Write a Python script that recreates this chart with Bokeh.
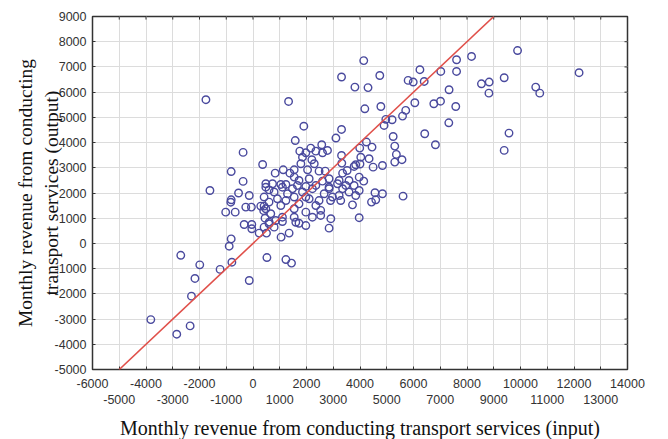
from bokeh.plotting import figure
from bokeh.models import LinearAxis, FixedTicker, Slope
from bokeh.embed import file_html
from bokeh.resources import INLINE

# ---- data ----
x_input = [
    -3820, -2850, -2350, -2300, -2170, -1990, -2700, -1230, -790, -890, -815, -140, 520, 1230, 1440,
    1050, 1350, 230, 505, 415, 790, -330, -45, -45, 1720, 1975, 1100, 605,
    -1760, 1330, 1900, 1580, -370, 360, -815, -1610, -370, -540, -140, -815, -830, -1020, -665, -270, -60, 290, 415,
    3310, 3100, 1750, 1975, 2160, 2350, 2570, 2600, 2785, 3310, 3320, 3840, 4030, 1850, 2200, 2290, 1790, 1540,
    830, 1130, 1380, 2040, 2470, 2700, 3350, 3780, 3970, 3590, 3220, 2845, 2600, 2100, 1720, 1540, 730, 1040,
    1230, 1660, 1975, 2350, 2845, 3160, 3470, 3780, 480, 600,
    415, 600, 480, 790, 915, 1040, 1230, 1290, 1540, 1540, 1720, 1850, 1975, 2100, 2220, 2350, 2470, 2530,
    2660, 2845, 2970, 3220, 3280, 2900, 3720, 3970, 3970, 2910, 2845, 850, 1100, 1540, 1600, 2220, 2530, 665, 600,
    480, 1100, 1475, 3350, 3590, 3840, 1975, 400, 450,
    4240, 3990, 4450, 4340, 4000, 4490, 4840, 3520, 4140, 4560, 4840, 5610, 4430, 4590,
    4140, 3310, 4740, 3810, 4300, 4180, 4780, 5800, 5990, 6400, 6240, 7020, 7610, 7610, 8170, 7330,
    5710, 5590, 6050, 4965, 4900, 5200, 6760, 7010, 7580, 7320, 6420, 6820, 5240, 5300, 5360, 5300, 5570,
    8540, 8830, 8820, 9390, 9890, 10570, 10720, 12190, 9570, 9390,
]
y_output = [
    -3020, -3600, -3270, -2090, -1390, -850, -470, -1030, -745, -110, 180, -1470, -560, -640, -780,
    250, 410, 410, 410, 645, 645, 750, 750, 580, 800, 710, 870, 845,
    5700, 5630, 4650, 4080, 3610, 3130, 2850, 2100, 2460, 2000, 1900, 1730, 1636, 1240, 1240, 1440, 1440, 1480, 1480,
    4520, 4180, 3660, 3595, 3780, 3660, 3913, 3595, 3687, 3490, 3185, 3120, 3420, 3420, 3318, 3160, 3160, 2920,
    2787, 2920, 2787, 2920, 2866, 2866, 2787, 3052, 2628, 2497, 2497, 2565, 2470, 2565, 2497, 2630, 2366, 2340,
    2340, 2300, 2260, 2300, 2230, 2366, 2300, 2300, 2366, 2125,
    1840, 1640, 1375, 2040, 1770, 1505, 1700, 1970, 1840, 1375, 1570, 2040, 1240, 1770, 2170, 1505, 1700, 1310,
    1970, 2170, 1840, 1900, 1700, 1700, 1530, 2100, 1020, 980, 605, 910, 1040, 1040, 840, 1040, 1110, 1180, 780,
    2230, 2230, 2170, 2170, 2040, 1900, 1840, 1300, 1000,
    4020, 3780, 3820, 3360, 3150, 3025, 3090, 2893, 2470, 2010, 1970, 1875, 1640, 1730,
    7250, 6600, 6660, 6200, 6180, 5340, 5430, 6465, 6400, 6425, 6890, 6820, 7285, 6820, 7415, 6095,
    5275, 5050, 5580, 4920, 4680, 4905, 5540, 5640, 5430, 4785, 4350, 3913, 4240, 3860, 3530, 3225, 3320,
    6330, 6400, 5960, 6570, 7650, 6200, 5960, 6770, 4375, 3690,
]

x_min, x_max = -6000, 14000
y_min, y_max = -5000, 9000
x_ticks = list(range(-6000, 14001, 1000))
x_ticks_top_row = list(range(-6000, 14001, 2000))
x_ticks_bottom_row = list(range(-5000, 13001, 2000))
y_ticks = list(range(-5000, 9001, 1000))

fit_slope = 1.0
fit_intercept = 0.0

x_label = "Monthly revenue from conducting transport services (input)"
y_label = "Monthly revenue from conducting\ntransport services (output)"

TICK_FONT = "Liberation Sans"
LABEL_FONT = "Liberation Serif"
TICK_COLOR = "#333333"

W, H = 652, 441
BL, BR, BT, BB = 92, 25, 16, 64


def plain(t):
    return str(t)  # ASCII hyphen for negatives, as in the original


p = figure(width=W, height=H, x_range=(x_min, x_max), y_range=(y_min, y_max),
           output_backend="svg", toolbar_location=None,
           min_border_left=BL, min_border_right=BR, min_border_top=BT, min_border_bottom=BB)

p.background_fill_color = "white"
p.outline_line_color = TICK_COLOR
p.outline_line_width = 1.5

# grid
p.xgrid.ticker = FixedTicker(ticks=x_ticks)
p.ygrid.ticker = FixedTicker(ticks=y_ticks)
p.xgrid.grid_line_color = "#dcdcdc"
p.ygrid.grid_line_color = "#dcdcdc"

# bottom axis row 1 (even thousands labelled, ticks at every thousand)
xa = p.xaxis[0]
xa.ticker = FixedTicker(ticks=x_ticks_top_row, minor_ticks=x_ticks_bottom_row)
xa.major_label_overrides = {t: plain(t) for t in x_ticks_top_row}
xa.major_tick_in = 3
xa.major_tick_out = 0
xa.minor_tick_in = 3
xa.minor_tick_out = 0
xa.axis_line_color = TICK_COLOR
xa.major_tick_line_color = TICK_COLOR
xa.minor_tick_line_color = TICK_COLOR
xa.major_label_text_font = TICK_FONT
xa.major_label_text_font_size = "12.5px"
xa.major_label_text_color = TICK_COLOR
xa.major_label_standoff = 9

# bottom axis row 2 (odd thousands)
xa2 = LinearAxis(ticker=FixedTicker(ticks=x_ticks_bottom_row))
xa2.major_label_overrides = {t: plain(t) for t in x_ticks_bottom_row}
xa2.major_tick_in = 0
xa2.major_tick_out = 0
xa2.minor_tick_line_color = None
xa2.axis_line_color = None
xa2.major_tick_line_color = None
xa2.major_label_text_font = TICK_FONT
xa2.major_label_text_font_size = "12.5px"
xa2.major_label_text_color = TICK_COLOR
xa2.major_label_standoff = 4
xa2.axis_label = x_label
xa2.axis_label_text_font = LABEL_FONT
xa2.axis_label_text_font_size = "20px"
xa2.axis_label_text_font_style = "normal"
xa2.axis_label_text_color = "#111111"
xa2.axis_label_standoff = 10
p.add_layout(xa2, "below")

# left axis
ya = p.yaxis[0]
ya.ticker = FixedTicker(ticks=y_ticks)
ya.major_label_overrides = {t: plain(t) for t in y_ticks}
ya.major_tick_in = 3
ya.major_tick_out = 0
ya.minor_tick_line_color = None
ya.axis_line_color = TICK_COLOR
ya.major_tick_line_color = TICK_COLOR
ya.major_label_text_font = TICK_FONT
ya.major_label_text_font_size = "12.5px"
ya.major_label_text_color = TICK_COLOR
ya.major_label_standoff = 6
ya.axis_label = y_label
ya.axis_label_text_font = LABEL_FONT
ya.axis_label_text_font_size = "19.5px"
ya.axis_label_text_font_style = "normal"
ya.axis_label_text_color = "#111111"
ya.axis_label_standoff = -10

# inward ticks on the top and right frame edges
tick_px = 3
frame_w = W - BL - BR
frame_h = H - BT - 80
dx = tick_px * (x_max - x_min) / frame_w
dy = tick_px * (y_max - y_min) / frame_h
p.segment(x0=x_ticks, y0=[y_max] * len(x_ticks), x1=x_ticks, y1=[y_max - dy] * len(x_ticks),
          line_color=TICK_COLOR, line_width=1)
p.segment(x0=[x_max] * len(y_ticks), y0=y_ticks, x1=[x_max - dx] * len(y_ticks), y1=y_ticks,
          line_color=TICK_COLOR, line_width=1)

# fit line
p.add_layout(Slope(gradient=fit_slope, y_intercept=fit_intercept, line_color="#e0504a", line_width=1.6))

# points
p.scatter(x_input, y_output, marker="circle", size=7.5, fill_color=None,
          line_color="#4a4a9e", line_width=1.4)

open("out.html", "w").write(file_html(p, INLINE))
